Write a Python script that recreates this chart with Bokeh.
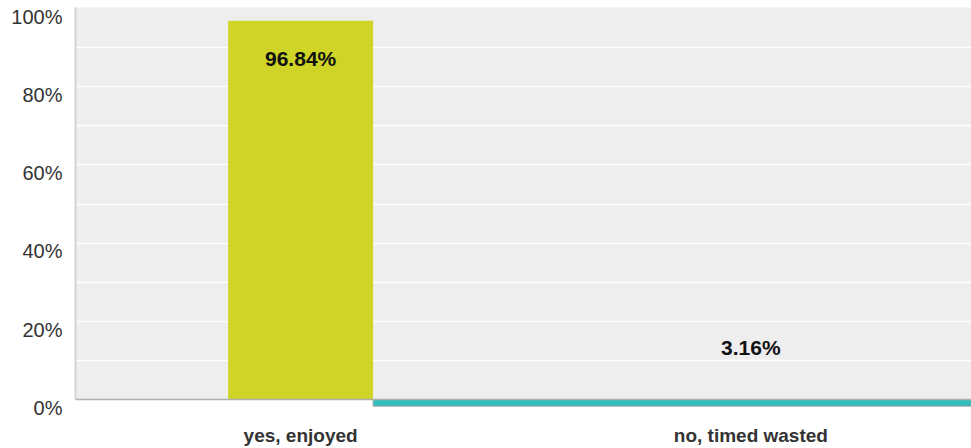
from bokeh.plotting import figure
from bokeh.models import (Range1d, FixedTicker, LinearAxis, BoxAnnotation, Span,
                          ColumnDataSource, PrintfTickFormatter)
from bokeh.core.properties import value
from bokeh.embed import file_html
from bokeh.resources import INLINE

# ---- data ----
categories = ["yes, enjoyed", "no, timed wasted"]
percent_values = [96.84, 3.16]
value_labels = ["96.84%", "3.16%"]
y_tick_values = [0, 20, 40, 60, 80, 100]
grid_values = [10, 20, 30, 40, 50, 60, 70, 80, 90]
bar_colors = ["#cfd427", "#33bdbd"]

# ---- styling / layout constants ----
FONT = "Liberation Sans"
BAR_WIDTH = 0.322
X_END = 1.99
Y_START, Y_END = -2.55, 100.26
LABEL_SHIFT = 2.1          # y tick labels sit a little below their gridlines
TEAL_DEPTH = 1.71          # drawn strip of the second series below the baseline
BG = "#eeeeee"

x_centers = [i + 0.5 for i in range(len(categories))]

p = figure(width=971, height=448, output_backend="svg", toolbar_location=None,
           x_range=Range1d(0, X_END), y_range=Range1d(Y_START, Y_END),
           min_border_left=75, min_border_right=0, min_border_top=7,
           min_border_bottom=38, outline_line_color=None,
           background_fill_color="white", border_fill_color="white")

# gray plotting background above the baseline
p.add_layout(BoxAnnotation(bottom=0, top=Y_END + 5, fill_color=BG, fill_alpha=1,
                           line_color=None, level="image"))

# grid
p.xgrid.visible = False
p.ygrid.ticker = FixedTicker(ticks=grid_values)
p.ygrid.grid_line_color = "white"
p.ygrid.grid_line_width = 1.5

# main y axis: only the left line, from 0 to the top
ya = p.yaxis[0]
ya.ticker = FixedTicker(ticks=[])
ya.bounds = (0, Y_END)
ya.axis_line_color = "#d4d4d4"
ya.axis_line_width = 2
ya.major_tick_line_color = None
ya.minor_tick_line_color = None
ya.major_tick_out = 0
ya.minor_tick_out = 0
ya.major_label_standoff = 0

# label axis (shifted range so labels sit slightly below their lines)
p.extra_y_ranges = {"lbl": Range1d(Y_START + LABEL_SHIFT, Y_END + LABEL_SHIFT)}
lax = LinearAxis(y_range_name="lbl", ticker=FixedTicker(ticks=y_tick_values),
                 formatter=PrintfTickFormatter(format="%d%%"))
lax.axis_line_color = None
lax.major_tick_line_color = None
lax.minor_tick_line_color = None
lax.major_tick_out = 0
lax.minor_tick_out = 0
lax.major_label_standoff = 13
lax.major_label_text_font = FONT
lax.major_label_text_font_size = "20px"
lax.major_label_text_color = "#333333"
p.add_layout(lax, "left")

# x axis
xa = p.xaxis[0]
xa.ticker = FixedTicker(ticks=x_centers)
xa.major_label_overrides = {x: c for x, c in zip(x_centers, categories)}
xa.axis_line_color = None
xa.major_tick_line_color = None
xa.minor_tick_line_color = None
xa.major_tick_out = 0
xa.minor_tick_out = 0
xa.major_label_standoff = 15
xa.major_label_text_font = FONT
xa.major_label_text_font_style = "bold"
xa.major_label_text_font_size = "19px"
xa.major_label_text_color = "#333333"

# first series bar
p.vbar(x=x_centers[0], top=percent_values[0], bottom=0, width=BAR_WIDTH,
       fill_color=bar_colors[0], line_color=None)

# second series, rendered as a thin strip just below the baseline
p.quad(left=x_centers[0] + BAR_WIDTH / 2, right=X_END + 0.1, top=0,
       bottom=-TEAL_DEPTH, fill_color=bar_colors[1], line_color="#a8a8a8",
       line_width=1)

# baseline
p.add_layout(Span(location=0, dimension="width", line_color="#b0b0b0",
                  line_width=1.5))

# value labels
src = ColumnDataSource(dict(x=x_centers, y=percent_values, t=value_labels,
                            off=[38, -40]))
p.text(x="x", y="y", text="t", y_offset="off", source=src,
       text_font=value(FONT), text_font_style="bold", text_font_size="21px",
       text_color="#111111", text_align="center", text_baseline="middle")

open("out.html", "w").write(file_html(p, INLINE))
